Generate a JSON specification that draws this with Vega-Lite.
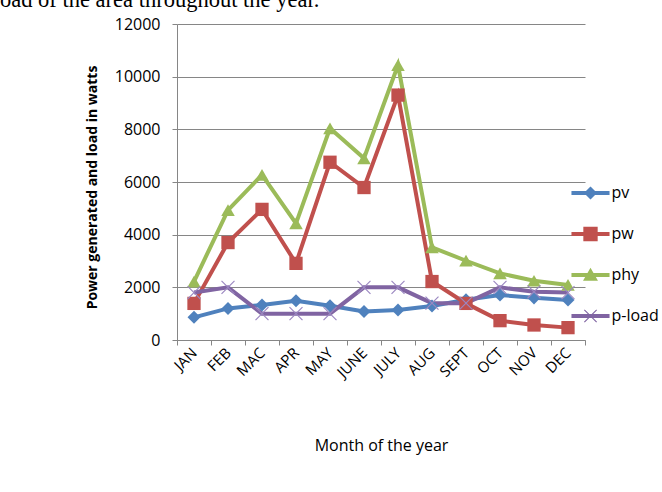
{
  "$schema": "https://vega.github.io/schema/vega-lite/v6.json",
  "width": 408,
  "height": 316,
  "autosize": {"type": "none"},
  "padding": {"left": 177, "top": 24, "right": 77, "bottom": 152},
  "background": "white",
  "title": {
    "text": "oad of the area throughout the year.",
    "font": "Liberation Serif",
    "fontSize": 22.5,
    "fontWeight": "normal",
    "color": "black",
    "anchor": "start",
    "frame": "group",
    "orient": "top",
    "baseline": "alphabetic",
    "offset": 0,
    "dy": 13,
    "dx": -177
  },
  "config": {
    "view": {"stroke": null},
    "font": "Open Sans"
  },
  "data": {
    "values": [
      {"month": "JAN", "series": "pv", "value": 860},
      {"month": "FEB", "series": "pv", "value": 1200},
      {"month": "MAC", "series": "pv", "value": 1330},
      {"month": "APR", "series": "pv", "value": 1490},
      {"month": "MAY", "series": "pv", "value": 1300},
      {"month": "JUNE", "series": "pv", "value": 1080},
      {"month": "JULY", "series": "pv", "value": 1140},
      {"month": "AUG", "series": "pv", "value": 1290},
      {"month": "SEPT", "series": "pv", "value": 1530},
      {"month": "OCT", "series": "pv", "value": 1710},
      {"month": "NOV", "series": "pv", "value": 1600},
      {"month": "DEC", "series": "pv", "value": 1520},
      {"month": "JAN", "series": "pw", "value": 1390},
      {"month": "FEB", "series": "pw", "value": 3700},
      {"month": "MAC", "series": "pw", "value": 4960},
      {"month": "APR", "series": "pw", "value": 2910},
      {"month": "MAY", "series": "pw", "value": 6750},
      {"month": "JUNE", "series": "pw", "value": 5790},
      {"month": "JULY", "series": "pw", "value": 9300},
      {"month": "AUG", "series": "pw", "value": 2220},
      {"month": "SEPT", "series": "pw", "value": 1390},
      {"month": "OCT", "series": "pw", "value": 735},
      {"month": "NOV", "series": "pw", "value": 570},
      {"month": "DEC", "series": "pw", "value": 470},
      {"month": "JAN", "series": "phy", "value": 2220},
      {"month": "FEB", "series": "phy", "value": 4930},
      {"month": "MAC", "series": "phy", "value": 6270},
      {"month": "APR", "series": "phy", "value": 4430},
      {"month": "MAY", "series": "phy", "value": 8040},
      {"month": "JUNE", "series": "phy", "value": 6900},
      {"month": "JULY", "series": "phy", "value": 10440},
      {"month": "AUG", "series": "phy", "value": 3520},
      {"month": "SEPT", "series": "phy", "value": 3010},
      {"month": "OCT", "series": "phy", "value": 2530},
      {"month": "NOV", "series": "phy", "value": 2250},
      {"month": "DEC", "series": "phy", "value": 2090},
      {"month": "JAN", "series": "p-load", "value": 1800},
      {"month": "FEB", "series": "p-load", "value": 2000},
      {"month": "MAC", "series": "p-load", "value": 1000},
      {"month": "APR", "series": "p-load", "value": 1000},
      {"month": "MAY", "series": "p-load", "value": 1000},
      {"month": "JUNE", "series": "p-load", "value": 2000},
      {"month": "JULY", "series": "p-load", "value": 2000},
      {"month": "AUG", "series": "p-load", "value": 1400},
      {"month": "SEPT", "series": "p-load", "value": 1400},
      {"month": "OCT", "series": "p-load", "value": 2000},
      {"month": "NOV", "series": "p-load", "value": 1830},
      {"month": "DEC", "series": "p-load", "value": 1800}
    ]
  },
  "encoding": {
    "x": {
      "field": "month",
      "type": "nominal",
      "sort": ["JAN", "FEB", "MAC", "APR", "MAY", "JUNE", "JULY", "AUG", "SEPT", "OCT", "NOV", "DEC"],
      "scale": {"type": "band", "paddingInner": 0, "paddingOuter": 0},
      "axis": {
        "title": "Month of the year",
        "titleFont": "Open Sans",
        "titleFontSize": 16,
        "titleFontWeight": "normal",
        "titleColor": "black",
        "titleX": 204,
        "titleY": 105,
        "titleBaseline": "middle",
        "titleAlign": "center",
        "labelAngle": -45,
        "labelAlign": "right",
        "labelBaseline": "middle",
        "labelFontSize": 15,
        "labelColor": "black",
        "labelPadding": 5,
        "tickBand": "extent",
        "tickSize": 5,
        "tickColor": "#868686",
        "domainColor": "#868686",
        "grid": false
      }
    },
    "y": {
      "field": "value",
      "type": "quantitative",
      "scale": {"domain": [0, 12000], "nice": false},
      "axis": {
        "title": "Power generated and load in watts",
        "titleFont": "Open Sans",
        "titleFontSize": 14,
        "titleFontWeight": "bold",
        "titleColor": "black",
        "titleX": -85,
        "titleY": 163,
        "titleAngle": -90,
        "titleAlign": "center",
        "titleBaseline": "middle",
        "values": [0, 2000, 4000, 6000, 8000, 10000, 12000],
        "format": "d",
        "labelFontSize": 16,
        "labelColor": "black",
        "labelPadding": 12,
        "tickSize": 5,
        "tickColor": "#868686",
        "domainColor": "#868686",
        "gridColor": "#868686",
        "gridWidth": 1
      }
    }
  },
  "layer": [
    {
      "mark": {"type": "line", "strokeWidth": 4},
      "encoding": {
        "color": {
          "field": "series",
          "type": "nominal",
          "scale": {"domain": ["pv", "pw", "phy", "p-load"], "range": ["#4F81BD", "#C0504D", "#9BBB59", "#8064A2"]},
          "legend": null
        }
      }
    },
    {
      "mark": {"type": "point", "filled": true, "opacity": 1},
      "encoding": {
        "color": {
          "field": "series",
          "type": "nominal",
          "scale": {"domain": ["pv", "pw", "phy", "p-load"], "range": ["#4F81BD", "#C0504D", "#9BBB59", "#9B87C1"]},
          "legend": null
        },
        "shape": {
          "field": "series",
          "type": "nominal",
          "scale": {"domain": ["pv", "pw", "phy", "p-load"], "range": ["diamond", "square", "triangle-up", "M-1,-0.88L-0.88,-1L1,0.88L0.88,1ZM1,-0.88L-0.88,1L-1,0.88L0.88,-1Z"]},
          "legend": null
        },
        "size": {
          "field": "series",
          "type": "nominal",
          "scale": {"domain": ["pv", "pw", "phy", "p-load"], "range": [170, 190, 220, 200]},
          "legend": null
        }
      }
    },
    {
      "mark": {"type": "point", "filled": true, "opacity": 0},
      "encoding": {
        "color": {
          "field": "series",
          "type": "nominal",
          "scale": {"domain": ["pv", "pw", "phy", "p-load"], "range": ["#4F81BD", "#C0504D", "#9BBB59", "#8064A2"]},
          "legend": {
            "orient": "none",
            "legendX": 405.5,
            "legendY": 161,
            "title": null,
            "padding": 0,
            "symbolSize": 170,
            "symbolOpacity": 1,
            "symbolStrokeWidth": 0,
            "rowPadding": 25,
            "labelOffset": 13,
            "labelFontSize": 16,
            "labelColor": "black"
          }
        },
        "shape": {
          "field": "series",
          "type": "nominal",
          "scale": {"domain": ["pv", "pw", "phy", "p-load"], "range": [
            "M-2.92,-0.31L2.92,-0.31L2.92,0.31L-2.92,0.31ZM-1,0L0,-1L1,0L0,1Z",
            "M-2.92,-0.31L2.92,-0.31L2.92,0.31L-2.92,0.31ZM-1.1,-1.1L1.1,-1.1L1.1,1.1L-1.1,1.1Z",
            "M-2.92,-0.31L2.92,-0.31L2.92,0.31L-2.92,0.31ZM0,-1.1L1.15,0.9L-1.15,0.9Z",
            "M-2.92,-0.31L2.92,-0.31L2.92,0.31L-2.92,0.31ZM-1,-0.88L-0.88,-1L1,0.88L0.88,1ZM1,-0.88L-0.88,1L-1,0.88L0.88,-1Z"
          ]},
          "legend": {
            "orient": "none",
            "legendX": 405.5,
            "legendY": 161,
            "title": null,
            "padding": 0,
            "symbolSize": 170,
            "symbolOpacity": 1,
            "symbolStrokeWidth": 0,
            "rowPadding": 25,
            "labelOffset": 13,
            "labelFontSize": 16,
            "labelColor": "black"
          }
        }
      }
    }
  ],
  "resolve": {
    "scale": {"color": "independent", "shape": "independent"},
    "legend": {"color": "independent", "shape": "independent"}
  }
}
